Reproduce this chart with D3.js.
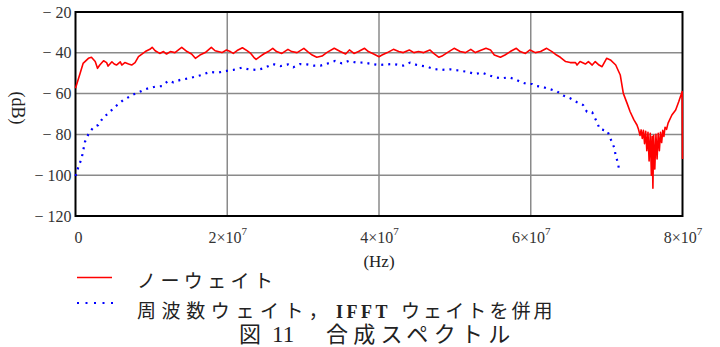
<!DOCTYPE html>
<html>
<head>
<meta charset="utf-8">
<script src="https://cdn.jsdelivr.net/npm/d3@7/dist/d3.min.js"></script>
<style>
  html, body { margin: 0; padding: 0; background: #fff; }
  svg { display: block; }
</style>
</head>
<body>
<svg id="chart" width="720" height="347"></svg>
<script>
// Frequency in units of 1e6 Hz, level in dB
const noWeightFreq = [0,0.6,1.0,1.7,2.1,2.6,2.9,3.2,3.7,4.1,4.3,4.8,5.1,5.4,5.9,6.1,6.5,7.0,7.4,7.85,8.3,9.2,9.8,10.1,10.5,11.1,11.6,12.0,12.5,13.1,14.0,14.7,15.3,15.8,16.4,17.1,17.9,18.4,19.3,19.9,20.4,20.8,21.3,22.0,22.6,23.1,23.5,23.8,24.3,24.8,25.4,26.0,26.5,27.2,28.0,28.5,29.2,30.1,30.6,31.2,31.8,32.5,33.1,34.1,34.9,35.6,36.1,36.7,37.3,38.1,38.6,39.3,40.0,40.4,41.1,41.9,42.6,43.2,44.0,44.6,45.2,45.9,46.7,47.2,47.9,48.3,49.0,49.9,50.7,51.4,52.1,52.7,53.35,54.1,54.7,55.2,56.0,56.6,57.3,58.1,58.6,59.3,59.9,60.6,61.3,62.1,62.8,63.4,63.9,64.6,65.2,65.9,66.1,66.5,67.2,67.6,68.1,68.5,69.0,69.4,70.0,70.5,71.2,71.6,71.8,72.2,72.7,73.1,73.6,74.0,74.2,74.4,74.55,74.7,74.85,75.0,75.15,75.3,75.45,75.6,75.75,75.9,76.0,76.1,76.2,76.35,76.5,76.65,76.8,76.95,77.1,77.25,77.4,77.55,77.7,77.9,78.1,78.6,79.1,79.5,79.96,80.0];
const noWeightDb = [-57.4,-50.1,-45.2,-42.7,-42.2,-44.3,-47.6,-46.0,-43.9,-44.8,-46.5,-44.4,-45.5,-46.0,-44.4,-46.0,-44.8,-45.5,-46.0,-44.8,-41.9,-39.4,-38.3,-37.3,-39.0,-40.3,-39.4,-40.6,-39.4,-39.9,-37.3,-39.4,-40.6,-42.7,-41.1,-39.9,-37.3,-39.0,-39.9,-38.6,-39.4,-40.3,-38.9,-37.5,-38.9,-40.3,-42.2,-43.2,-41.9,-40.6,-39.4,-37.8,-39.4,-40.3,-38.3,-39.4,-39.9,-37.8,-39.4,-41.1,-42.2,-41.6,-39.9,-37.8,-39.4,-40.6,-38.6,-40.3,-39.4,-37.8,-39.4,-40.6,-41.9,-41.1,-39.9,-38.3,-39.4,-39.9,-38.6,-39.9,-39.4,-39.9,-38.6,-40.3,-42.2,-41.6,-39.9,-37.8,-39.4,-39.9,-38.3,-39.9,-38.9,-37.8,-38.6,-41.1,-42.2,-41.1,-39.4,-37.8,-39.4,-40.3,-38.6,-39.9,-39.4,-37.8,-39.4,-41.1,-42.2,-44.3,-44.8,-44.8,-46.0,-44.3,-45.5,-44.3,-46.0,-44.3,-46.0,-46.8,-42.7,-43.5,-46.0,-49.3,-50.9,-59.9,-64.8,-68.9,-72.9,-75.4,-77.5,-80.5,-77.8,-82.0,-78.0,-84.5,-78.5,-88.0,-79.0,-93.0,-79.5,-100.0,-81.0,-106.4,-80.5,-97.0,-80.0,-92.0,-79.5,-88.0,-79.0,-84.0,-78.0,-81.0,-76.5,-77.5,-74.5,-70.5,-68.0,-64.0,-59.0,-92.0];

const combinedFreq = [0,0.37,0.81,1.25,1.69,2.35,3.0,3.67,4.33,4.99,5.65,6.31,6.97,7.63,8.29,8.95,9.61,10.5,11.4,12.25,12.9,13.8,14.9,15.8,16.6,17.7,18.8,19.9,20.8,21.9,22.8,23.9,24.8,26.0,27.0,28.0,28.7,29.6,30.5,31.4,32.3,33.6,34.2,35.1,36.0,36.9,38.0,39.1,40.0,41.0,41.9,43.2,44.1,45.0,46.3,47.2,48.1,49.4,50.7,51.6,52.7,53.6,54.4,55.3,56.2,57.1,58.0,58.6,59.5,60.2,60.8,61.7,62.6,63.5,64.3,65.2,66.1,66.9,67.4,68.1,68.7,69.1,70.1,70.5,71.0,71.2,71.5,71.7];
const combinedDb = [-100.4,-96.1,-91.7,-83.6,-80.0,-76.5,-75.4,-71.6,-69.7,-67.2,-65.1,-63.1,-61.8,-60.4,-59.5,-58.2,-57.4,-56.6,-56.3,-53.7,-54.5,-53.3,-52.5,-51.7,-50.9,-49.4,-49.7,-48.9,-48.4,-47.3,-48.1,-48.4,-47.6,-45.5,-46.5,-45.7,-47.1,-45.5,-45.7,-46.3,-46.3,-44.8,-44.0,-45.2,-44.0,-44.7,-44.8,-45.5,-46.0,-45.7,-45.5,-46.3,-44.8,-46.0,-46.8,-47.9,-48.4,-48.1,-48.8,-49.3,-50.4,-49.7,-50.9,-52.0,-52.5,-52.0,-53.0,-54.2,-55.3,-55.3,-56.3,-56.9,-57.9,-59.0,-61.0,-62.3,-64.2,-65.6,-68.9,-69.2,-73.8,-77.4,-78.3,-82.0,-86.5,-90.4,-94.2,-98.6];

const xTicks = [0, 20, 40, 60, 80];
const xTickMantissa = ["0", "2", "4", "6", "8"];
const yTicks = [-120, -100, -80, -60, -40, -20];

const legendRed = "ノーウェイト";
const legendBlue = ["周波数ウェイト，", "IFFT", "ウェイトを併用"];
const captionParts = ["図", "11", "合成スペクトル"];

const svg = d3.select("#chart");
const plot = { left: 75.5, right: 682.5, top: 12, bottom: 216 };
const serif = "'Liberation Serif', 'Times New Roman', serif";
const cjk = "'Noto Sans CJK JP', 'Noto Sans CJK SC', sans-serif";

const x = d3.scaleLinear().domain([0, 80]).range([plot.left, plot.right]);
const y = d3.scaleLinear().domain([-120, -20]).range([plot.bottom, plot.top]);

// grid lines
const grid = svg.append("g").attr("stroke", "#8a8a8a").attr("stroke-width", 1.5);
grid.selectAll("line.v").data(xTicks.slice(1, -1)).join("line")
  .attr("x1", d => x(d)).attr("x2", d => x(d))
  .attr("y1", plot.top).attr("y2", plot.bottom);
grid.selectAll("line.h").data(yTicks.slice(1, -1)).join("line")
  .attr("x1", plot.left).attr("x2", plot.right)
  .attr("y1", d => y(d)).attr("y2", d => y(d));

// frame (traces are drawn over it)
svg.append("rect")
  .attr("x", plot.left).attr("y", plot.top)
  .attr("width", plot.right - plot.left).attr("height", plot.bottom - plot.top)
  .attr("fill", "none").attr("stroke", "#000").attr("stroke-width", 2);

// traces
const line = d3.line().x(d => x(d[0])).y(d => y(d[1]));
const redData = noWeightFreq.map((f, i) => [f, noWeightDb[i]]);
const blueData = combinedFreq.map((f, i) => [f, combinedDb[i]]);

svg.append("path").datum(blueData)
  .attr("fill", "none").attr("stroke", "#0000ff")
  .attr("stroke-width", 2.2).attr("stroke-dasharray", "2,5")
  .attr("d", line);

svg.append("path").datum(redData)
  .attr("fill", "none").attr("stroke", "#ff0000")
  .attr("stroke-width", 1.6).attr("stroke-linejoin", "round")
  .attr("d", line);

// y axis labels
const yAxis = d3.axisLeft(y).tickValues(yTicks).tickSize(0).tickPadding(4)
  .tickFormat(d => "− " + Math.abs(d));
const yg = svg.append("g").attr("transform", `translate(${plot.left},0)`).call(yAxis);
yg.select(".domain").remove();
yg.selectAll("text").attr("font-family", serif).attr("font-size", 16).attr("fill", "#333");

// x axis labels with power-of-ten exponents
const xAxis = d3.axisBottom(x).tickValues(xTicks).tickSize(0).tickFormat("");
const xg = svg.append("g").attr("transform", `translate(0,${plot.bottom})`).call(xAxis);
xg.select(".domain").remove();
xg.selectAll(".tick").each(function(d, i) {
  const t = d3.select(this).append("text")
    .attr("y", 27).attr("text-anchor", "middle")
    .attr("font-family", serif).attr("font-size", 16).attr("fill", "#333");
  if (d === 0) {
    t.attr("x", 2.5).text(xTickMantissa[i]);
  } else {
    t.append("tspan").text(xTickMantissa[i] + "×10");
    t.append("tspan").attr("dy", -8).attr("font-size", 11).text("7");
  }
});

// axis titles
svg.append("text")
  .attr("x", x(40)).attr("y", 267).attr("text-anchor", "middle")
  .attr("font-family", serif).attr("font-size", 17).attr("fill", "#222")
  .text("(Hz)");
svg.append("text")
  .attr("transform", "translate(12,108) rotate(90)")
  .attr("text-anchor", "middle")
  .attr("font-family", serif).attr("font-size", 18).attr("fill", "#222")
  .text("(dB)");

// legend
const legend = svg.append("g");
legend.append("line")
  .attr("x1", 77).attr("x2", 112).attr("y1", 277.5).attr("y2", 277.5)
  .attr("stroke", "#ff0000").attr("stroke-width", 1.6);
legend.append("line")
  .attr("x1", 77).attr("x2", 113).attr("y1", 303).attr("y2", 303)
  .attr("stroke", "#0000ff").attr("stroke-width", 2.2).attr("stroke-dasharray", "2,6.5");

legend.append("text")
  .attr("x", 137).attr("y", 288)
  .attr("font-family", cjk).attr("font-size", 19).attr("fill", "#222")
  .attr("letter-spacing", 4.4)
  .text(legendRed);

legend.append("text")
  .attr("x", 137).attr("y", 318)
  .attr("font-family", cjk).attr("font-size", 19).attr("fill", "#222")
  .attr("letter-spacing", 5.6)
  .text(legendBlue[0]);
legend.append("text")
  .attr("x", 336).attr("y", 318)
  .attr("font-family", serif).attr("font-weight", "bold").attr("font-size", 18).attr("fill", "#222")
  .attr("letter-spacing", 3.5)
  .text(legendBlue[1]);
legend.append("text")
  .attr("x", 401).attr("y", 318)
  .attr("font-family", cjk).attr("font-size", 19).attr("fill", "#222")
  .attr("letter-spacing", 3.1)
  .text(legendBlue[2]);

// figure caption
svg.append("text")
  .attr("x", 239).attr("y", 342)
  .attr("font-family", cjk).attr("font-size", 22).attr("fill", "#222")
  .text(captionParts[0]);
svg.append("text")
  .attr("x", 272).attr("y", 342)
  .attr("font-family", serif).attr("font-size", 23).attr("fill", "#222")
  .text(captionParts[1]);
svg.append("text")
  .attr("x", 326).attr("y", 342)
  .attr("font-family", cjk).attr("font-size", 22).attr("fill", "#222")
  .attr("letter-spacing", 5.3)
  .text(captionParts[2]);
</script>
</body>
</html>
